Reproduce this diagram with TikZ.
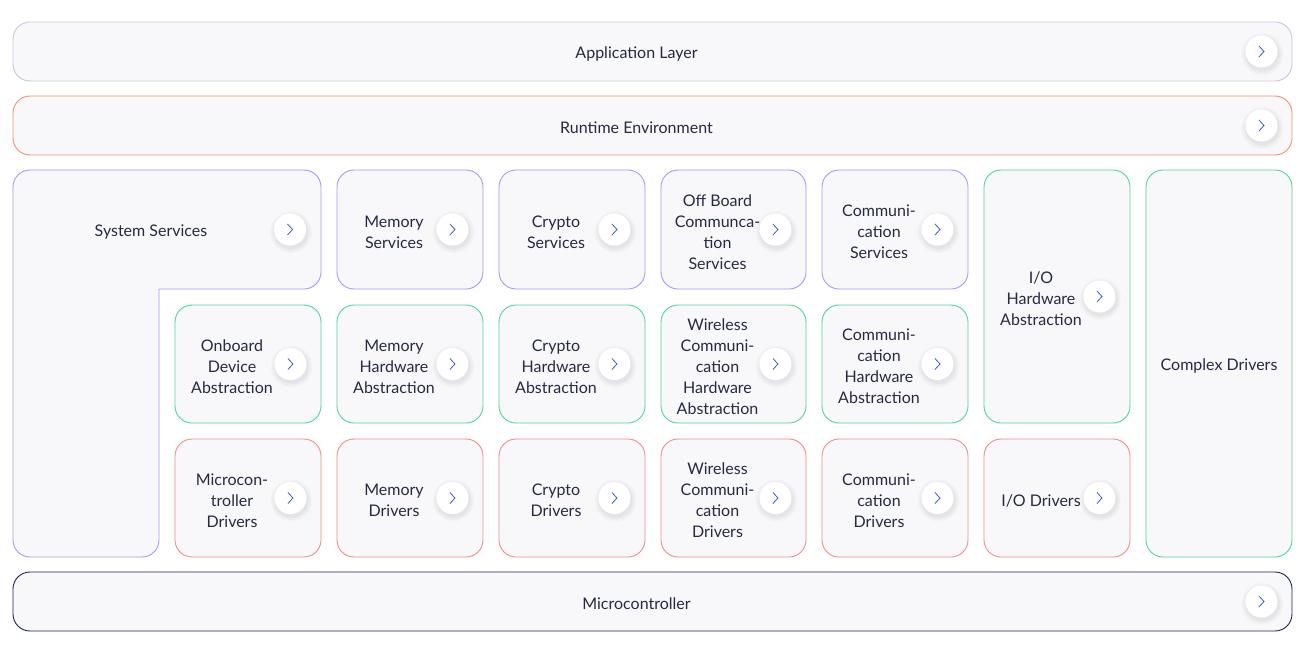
\documentclass[tikz,border=0pt]{standalone}
\usepackage{fontspec}
\setmainfont{Lato}

\definecolor{panel}{HTML}{F8F8FB}
\definecolor{inkText}{HTML}{262944}
\definecolor{chevBlue}{HTML}{3F5BD6}
\definecolor{appEdge}{HTML}{C6C7DF}
\definecolor{rteEdge}{HTML}{F3906F}
\definecolor{svcEdge}{HTML}{A09CF6}
\definecolor{halEdge}{HTML}{4ED59B}
\definecolor{drvEdge}{HTML}{F48A8A}
\definecolor{mcuEdge}{HTML}{1A2550}

\tikzset{
  card/.style={draw, fill=panel, line width=0.9pt, rounded corners=17pt, inner sep=0pt},
  appcard/.style={card, draw=appEdge},
  rtecard/.style={card, draw=rteEdge},
  svccard/.style={card, draw=svcEdge},
  halcard/.style={card, draw=halEdge},
  drvcard/.style={card, draw=drvEdge},
  mcucard/.style={card, draw=mcuEdge},
  lbl/.style={text=inkText, align=center, font=\fontsize{16}{21}\selectfont, inner sep=0pt},
  btn/.style={circle, fill=white, minimum size=32pt, inner sep=0pt},
  chev/.style={draw=chevBlue, line width=0.8pt, line join=miter},
}

% soft round button with a chevron, centred on a named coordinate
\newcommand\chevbtn[2]{%
  \foreach \r in {21,19.5,18,17}{\fill[black, opacity=0.018] ([xshift=1pt,yshift=-2.5pt]#2) circle (\r);}
  \node[btn] (#1) at (#2) {};
  \draw[chev] ([xshift=-2.5pt,yshift=5.5pt]#1.center) -- ([xshift=2.5pt]#1.center)
    -- ([xshift=-2.5pt,yshift=-5.5pt]#1.center);
}

% block: name, style, x1, y1, x2, y2, text
\newcommand\blk[7]{%
  \node[#2, minimum width={#5-#3}, minimum height={#6-#4}] (#1) at ({(#3+#5)/2},{(#4+#6)/2}) {};
  \node[lbl] (#1-t) at ([xshift=-16pt,yshift=-2.5pt]#1.center) {#7};
  \coordinate (#1-bc) at ([xshift=-31pt]#1.east);
  \chevbtn{#1-b}{#1-bc}
}

\begin{document}
\begin{tikzpicture}[x=1pt, y=-1pt]
\useasboundingbox[fill=white] (0,0) rectangle (1311,653);

% full-width layers
\blk{app}{appcard}{13}{22}{1292}{81}{Application Layer}
\blk{rte}{rtecard}{13}{96}{1292}{155}{Runtime Environment}
\blk{mcu}{mcucard}{13}{572}{1292}{631}{Microcontroller}

% system services (L-shaped outline)
\path[fill=panel, draw=svcEdge, line width=0.9pt, rounded corners=17pt]
  (159,289) -- (321,289) -- (321,170) -- (13,170) -- (13,557) -- (159,557) -- (159,289);
\coordinate (sys) at (151,229.5);
\node[lbl] (sys-t) at ([yshift=-2.5pt]sys) {System Services};
\coordinate (sysbtn) at (290,229.5);
\chevbtn{sys-b}{sysbtn}

% services row
\blk{memsvc}{svccard}{337}{170}{483}{289}{Memory\\Services}
\blk{crysvc}{svccard}{499}{170}{645}{289}{Crypto\\Services}
\blk{offsvc}{svccard}{661}{170}{806}{289}{Off Board\\Communca-\\tion\\Services}
\blk{comsvc}{svccard}{822}{170}{968}{289}{Communi-\\cation\\Services}

% hardware abstraction row
\blk{obdev}{halcard}{175}{305}{321}{423}{Onboard\\Device\\Abstraction}
\blk{memhw}{halcard}{337}{305}{483}{423}{Memory\\Hardware\\Abstraction}
\blk{cryhw}{halcard}{499}{305}{645}{423}{Crypto\\Hardware\\Abstraction}
\blk{wlhw}{halcard}{661}{305}{806}{423}{Wireless\\Communi-\\cation\\Hardware\\Abstraction}
\blk{comhw}{halcard}{822}{305}{968}{423}{Communi-\\cation\\Hardware\\Abstraction}
\blk{iohw}{halcard}{984}{170}{1130}{423}{I/O\\Hardware\\Abstraction}

% driver row
\blk{mcdrv}{drvcard}{175}{439}{321}{557}{Microcon-\\troller\\Drivers}
\blk{memdrv}{drvcard}{337}{439}{483}{557}{Memory\\Drivers}
\blk{crydrv}{drvcard}{499}{439}{645}{557}{Crypto\\Drivers}
\blk{wldrv}{drvcard}{661}{439}{806}{557}{Wireless\\Communi-\\cation\\Drivers}
\blk{comdrv}{drvcard}{822}{439}{968}{557}{Communi-\\cation\\Drivers}
\blk{iodrv}{drvcard}{984}{439}{1130}{557}{I/O Drivers}

% complex drivers (no button)
\node[halcard, minimum width=146pt, minimum height=387pt] (cdd) at (1219,363.5) {};
\node[lbl] (cdd-t) at ([yshift=-2.5pt]cdd.center) {Complex Drivers};
\end{tikzpicture}
\end{document}
